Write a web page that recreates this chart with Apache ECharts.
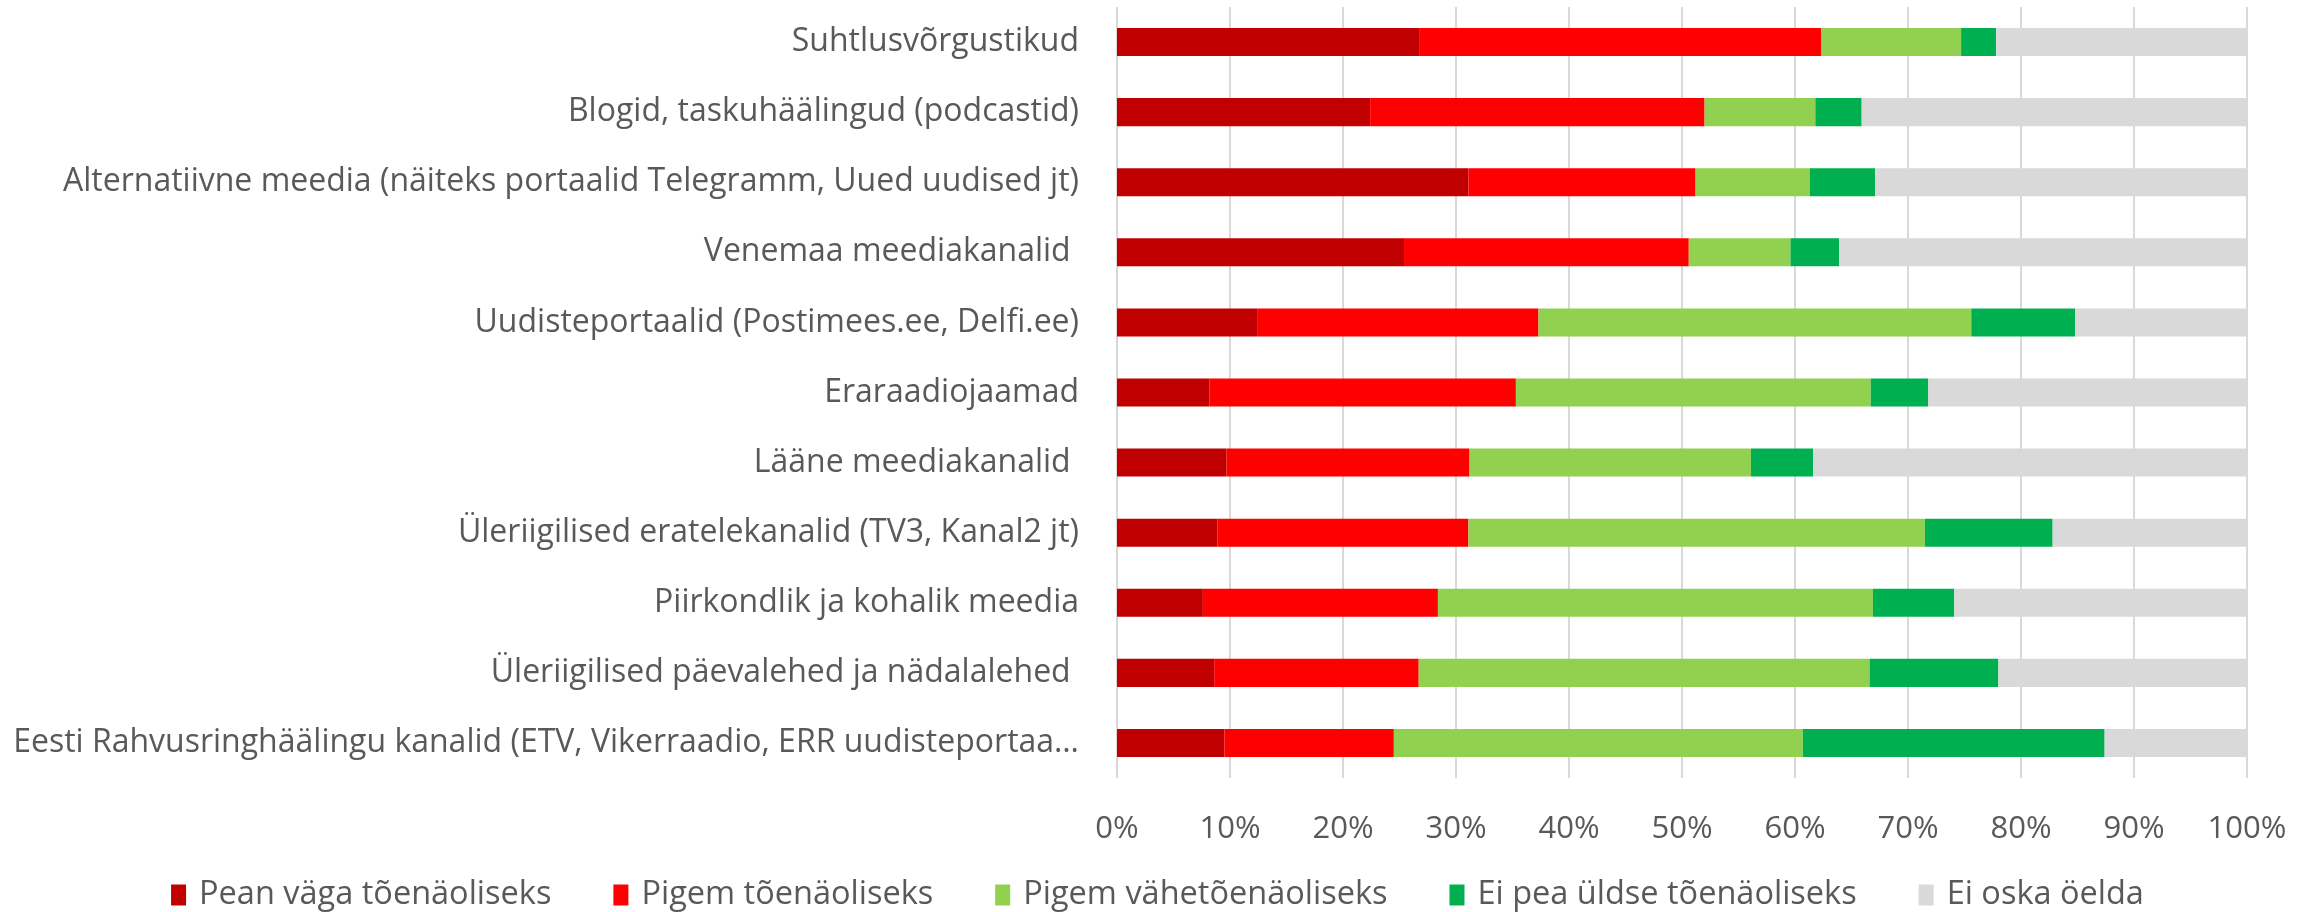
<!DOCTYPE html>
<html>
<head>
<meta charset="utf-8">
<script src="https://cdn.jsdelivr.net/npm/echarts@6/dist/echarts.min.js"></script>
<style>
  html, body { margin: 0; padding: 0; background: #fff; }
  #chart { width: 2315px; height: 912px; }
</style>
</head>
<body>
<div id="chart"></div>
<script>
const categories = [
    'Suhtlusvõrgustikud',
    'Blogid, taskuhäälingud (podcastid)',
    'Alternatiivne meedia (näiteks portaalid Telegramm, Uued uudised jt)',
    'Venemaa meediakanalid ',
    'Uudisteportaalid (Postimees.ee, Delfi.ee)',
    'Eraraadiojaamad',
    'Lääne meediakanalid ',
    'Üleriigilised eratelekanalid (TV3, Kanal2 jt)',
    'Piirkondlik ja kohalik meedia',
    'Üleriigilised päevalehed ja nädalalehed ',
    'Eesti Rahvusringhäälingu kanalid (ETV, Vikerraadio, ERR uudisteportaalid)'
]

const seriesNames = [
    'Pean väga tõenäoliseks',
    'Pigem tõenäoliseks',
    'Pigem vähetõenäoliseks',
    'Ei pea üldse tõenäoliseks',
    'Ei oska öelda'
]

const colors = ['#C00000', '#FF0000', '#92D050', '#00B050', '#D9D9D9']

// shares in %, one array per answer, rows top to bottom
const veryLikely = [26.8, 22.4, 31.1, 25.4, 12.4, 8.2, 9.7, 8.9, 7.6, 8.6, 9.5]
const ratherLikely = [35.5, 29.6, 20.1, 25.2, 24.9, 27.1, 21.5, 22.2, 20.8, 18.1, 15.0]
const ratherUnlikely = [12.4, 9.8, 10.1, 9.0, 38.3, 31.4, 24.9, 40.4, 38.5, 39.9, 36.2]
const notLikely = [3.1, 4.1, 5.8, 4.3, 9.2, 5.1, 5.5, 11.3, 7.2, 11.4, 26.7]
const dontKnow = [22.2, 34.1, 32.9, 36.1, 15.2, 28.2, 38.4, 17.2, 25.9, 22.0, 12.6]

const xTicks = ['0%', '10%', '20%', '30%', '40%', '50%', '60%', '70%', '80%', '90%', '100%']

const values = [veryLikely, ratherLikely, ratherUnlikely, notLikely, dontKnow]
const font = "'Open Sans', sans-serif"

const myChart = echarts.init(document.getElementById('chart'))
myChart.setOption({
    animation: false,
    textStyle: { fontFamily: font },
    grid: { left: 1117, right: 68, top: 7, bottom: 134, outerBoundsMode: 'none' },
    legend: {
        top: 873,
        left: 'center',
        itemWidth: 15,
        itemHeight: 21,
        itemGap: 62,
        icon: 'rect',
        textStyle: { fontSize: 32.5, lineHeight: 34, color: '#595959', fontFamily: font, padding: [0, 0, 0, 8] },
        data: seriesNames
    },
    xAxis: {
        type: 'value',
        min: 0,
        max: 100,
        interval: 10,
        axisLine: { show: false },
        axisTick: { show: false },
        splitLine: { lineStyle: { color: '#D9D9D9', width: 2 } },
        axisLabel: {
            fontSize: 31,
            color: '#595959',
            margin: 36,
            formatter: (v) => xTicks[Math.round(v / 10)]
        }
    },
    yAxis: {
        type: 'category',
        inverse: true,
        data: categories,
        axisLine: { show: false },
        axisTick: { show: false },
        axisLabel: {
            fontSize: 32,
            color: '#595959',
            margin: 38,
            width: 1085,
            overflow: 'truncate',
            ellipsis: '…'
        }
    },
    series: seriesNames.map((name, i) => ({
        name: name,
        type: 'bar',
        stack: 'total',
        barWidth: '40%',
        itemStyle: { color: colors[i] },
        data: values[i]
    }))
})
</script>
</body>
</html>
